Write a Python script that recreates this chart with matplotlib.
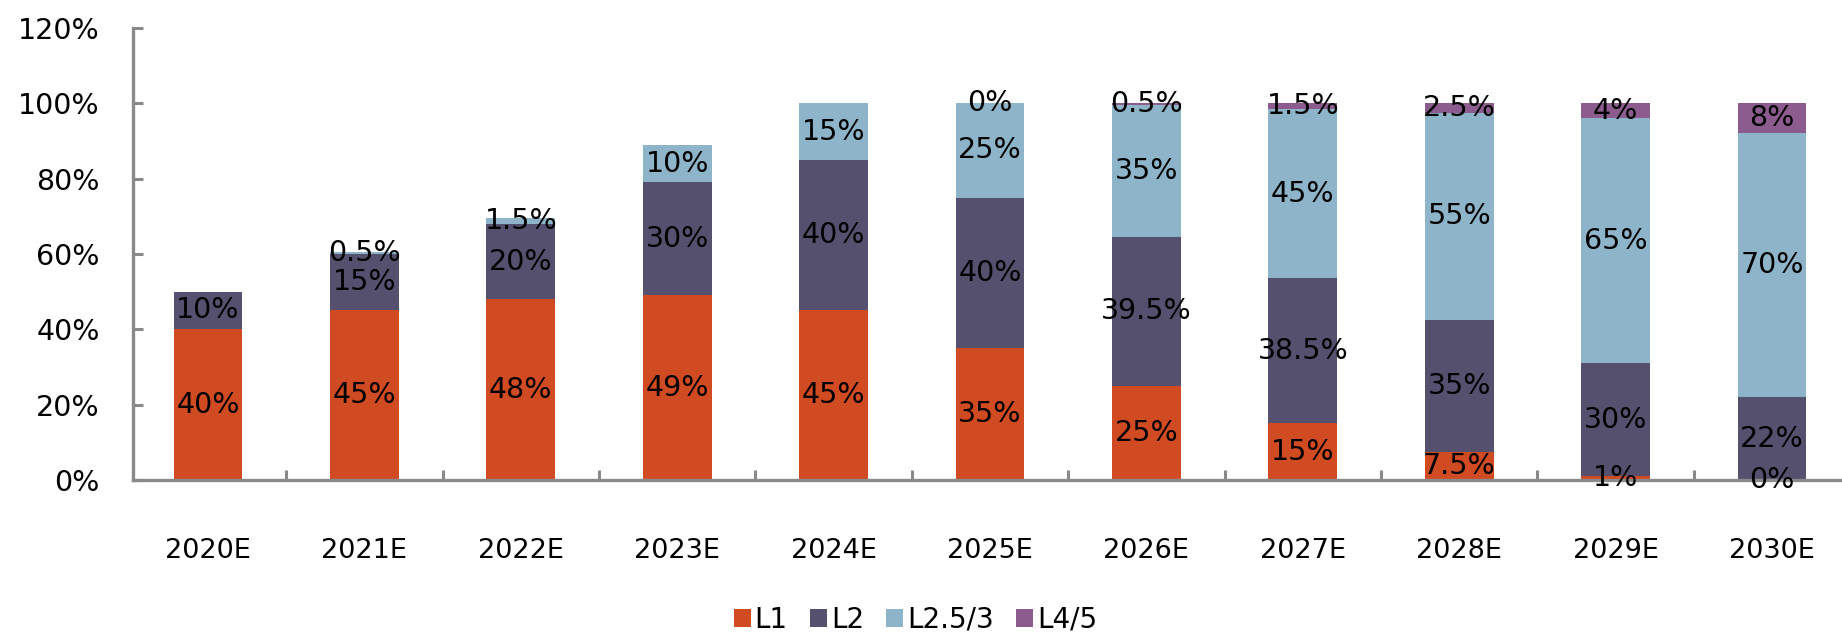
import numpy as np
import matplotlib
matplotlib.use("Agg")
import matplotlib.pyplot as plt
from matplotlib.ticker import FixedLocator

plt.rcParams["font.family"] = "DejaVu Sans"

years = ["2020E", "2021E", "2022E", "2023E", "2024E", "2025E",
         "2026E", "2027E", "2028E", "2029E", "2030E"]

# share of each autonomy level, in %; None = no value for that year
l1 = [40, 45, 48, 49, 45, 35, 25, 15, 7.5, 1, 0]
l2 = [10, 15, 20, 30, 40, 40, 39.5, 38.5, 35, 30, 22]
l25 = [None, 0.5, 1.5, 10, 15, 25, 35, 45, 55, 65, 70]
l45 = [None, None, None, None, None, 0, 0.5, 1.5, 2.5, 4, 8]

names = ["L1", "L2", "L2.5/3", "L4/5"]
colors = ["#d04a22", "#56506f", "#8db4c8", "#8c5c8f"]

fig = plt.figure(figsize=(18.42, 6.37), dpi=100)
ax = fig.add_axes([0.0722, 0.2465, 0.9278, 0.7095])

x = np.arange(len(years))
bottom = np.zeros(len(years))
for vals, name, c in zip([l1, l2, l25, l45], names, colors):
    h = np.array([0 if v is None else v for v in vals], dtype=float)
    bars = ax.bar(x, h, 0.44, bottom=bottom, color=c, label=name, linewidth=0)
    labs = ["" if v is None else "%g%%" % v for v in vals]
    ax.bar_label(bars, labels=labs, label_type="center", fontsize=20.5, color="black")
    bottom += h

ax.set_xlim(-0.48, 10.447)
ax.set_ylim(0, 120)
ax.set_yticks(np.arange(0, 121, 20))
ax.set_yticklabels(["%d%%" % t for t in range(0, 121, 20)])

ax.set_xticks(x)
ax.set_xticklabels(years)
ax.xaxis.set_minor_locator(FixedLocator(x[:-1] + 0.5))

for s in ["top", "right"]:
    ax.spines[s].set_visible(False)
for s in ["left", "bottom"]:
    ax.spines[s].set_color("#8a8a8a")
    ax.spines[s].set_linewidth(2.4)

ax.tick_params(axis="y", direction="in", length=7, width=2.2, color="#8a8a8a",
               labelsize=20.5, pad=24)
ax.tick_params(axis="x", which="major", length=0, labelsize=19.5, pad=42)
ax.tick_params(axis="x", which="minor", direction="in", length=7, width=2.2,
               color="#8a8a8a")

fig.legend(loc="center", bbox_to_anchor=(0.497, 0.027), ncol=4, frameon=False,
           fontsize=20, handlelength=0.6, handleheight=0.6, handletextpad=0.15,
           columnspacing=0.8, borderaxespad=0)

fig.savefig("out.png", dpi=100)
